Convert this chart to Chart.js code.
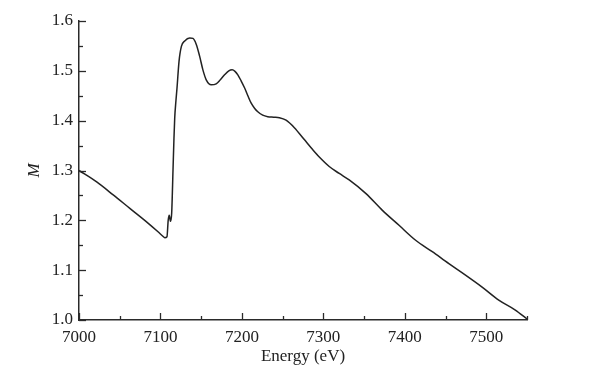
<!DOCTYPE html>
<html>
<head>
<meta charset="utf-8">
<script src="https://cdn.jsdelivr.net/npm/chart.js@4"></script>
<style>
html, body { margin: 0; padding: 0; background: #fff; }
</style>
</head>
<body>
<canvas id="grafico" width="600" height="381"></canvas>
<script>
// energia (eV) e valor de M
const energia = [
  7000, 7021.7, 7042, 7062.4, 7082.9, 7097, 7103, 7105.3, 7108, 7109.5, 7110.8, 7112.3,
  7113.8, 7115.4, 7116.5, 7117.5, 7119, 7120.3, 7122.8, 7125.7, 7129.8, 7135.9,
  7139.9, 7144, 7148, 7152.1, 7156.2, 7162.3, 7168.4, 7173.5, 7178.7, 7183.9,
  7188, 7191.5, 7195, 7199, 7203.2, 7207.3, 7211.4, 7215.5, 7219.5, 7225.5,
  7231.7, 7239, 7246, 7254.2, 7264.4, 7276.6, 7286.8, 7295, 7307.2, 7319.5,
  7331.7, 7352, 7372.5, 7392.9, 7413.3, 7433.7, 7454.1, 7474.5, 7494.9, 7515.3,
  7535.7, 7550
]
const valores = [
  1.300, 1.277, 1.251, 1.224, 1.197, 1.177, 1.168, 1.165, 1.167, 1.200, 1.210, 1.198,
  1.215, 1.300, 1.360, 1.405, 1.440, 1.465, 1.519, 1.549, 1.560, 1.566,
  1.565, 1.553, 1.530, 1.502, 1.482, 1.472, 1.474, 1.482, 1.492, 1.500,
  1.502, 1.499, 1.492, 1.480, 1.466, 1.450, 1.435, 1.425, 1.418, 1.411,
  1.408, 1.407, 1.406, 1.401, 1.386, 1.362, 1.342, 1.327, 1.308, 1.294,
  1.281, 1.254, 1.220, 1.190, 1.160, 1.137, 1.113, 1.090, 1.066, 1.040,
  1.020, 1.002
]

const xMin = 7000, xMax = 7550, xPasso = 50
const yMin = 1.0, yMax = 1.6, yPasso = 0.05

const corEixo = "#2a2a2a"
const fonte = "'Liberation Serif', 'DejaVu Serif', serif"

// ticks pra dentro, maior a cada 100 eV / 0.1
const ticksInternos = {
  id: "ticksInternos",
  afterDraw(chart) {
    const ctx = chart.ctx
    const area = chart.chartArea
    const sx = chart.scales.x
    const sy = chart.scales.y
    ctx.save()
    ctx.strokeStyle = corEixo
    ctx.lineWidth = 1.3
    sx.ticks.forEach(t => {
      const px = Math.round(sx.getPixelForValue(t.value)) + 0.5
      const len = Math.round(t.value) % 100 === 0 ? 7 : 4
      ctx.beginPath()
      ctx.moveTo(px, area.bottom)
      ctx.lineTo(px, area.bottom - len)
      ctx.stroke()
    })
    sy.ticks.forEach(t => {
      const py = Math.round(sy.getPixelForValue(t.value)) + 0.5
      const len = Math.round(t.value * 100) % 10 === 0 ? 7 : 4
      ctx.beginPath()
      ctx.moveTo(area.left, py)
      ctx.lineTo(area.left + len, py)
      ctx.stroke()
    })
    ctx.restore()
  }
}

const ctx = document.getElementById("grafico")

new Chart(ctx, {
  type: "line",
  data: {
    datasets: [{
      data: energia.map((e, i) => ({ x: e, y: valores[i] })),
      borderColor: "#222",
      borderWidth: 1.5,
      pointRadius: 0,
      fill: false,
      cubicInterpolationMode: "monotone"
    }]
  },
  options: {
    responsive: false,
    animation: false,
    layout: { padding: { top: 21, right: 73, left: 0, bottom: 0 } },
    plugins: { legend: { display: false }, tooltip: { enabled: false } },
    scales: {
      x: {
        type: "linear",
        min: xMin,
        max: xMax,
        afterFit: s => { s.height = 61 },
        grid: { display: false, drawTicks: false },
        border: { display: true, color: corEixo, width: 1.5 },
        ticks: {
          stepSize: xPasso,
          autoSkip: false,
          maxRotation: 0,
          padding: 7,
          color: "#222",
          font: { family: fonte, size: 17 },
          callback: v => Math.round(v) % 100 === 0 ? String(v) : ""
        },
        title: {
          display: true,
          text: "Energy (eV)",
          color: "#222",
          font: { family: fonte, size: 17 },
          padding: { top: 0, bottom: 14 }
        }
      },
      y: {
        type: "linear",
        min: yMin,
        max: yMax,
        afterFit: s => { s.width = 79 },
        grid: { display: false, drawTicks: false },
        border: { display: true, color: corEixo, width: 1.5 },
        ticks: {
          stepSize: yPasso,
          autoSkip: false,
          padding: 6,
          color: "#222",
          font: { family: fonte, size: 17 },
          callback: v => Math.round(v * 100) % 10 === 0 ? v.toFixed(1) : ""
        },
        title: {
          display: true,
          text: "M",
          color: "#222",
          font: { family: fonte, size: 17, style: "italic" },
          padding: { top: 24, bottom: 0 }
        }
      }
    }
  },
  plugins: [ticksInternos]
})
</script>
</body>
</html>
